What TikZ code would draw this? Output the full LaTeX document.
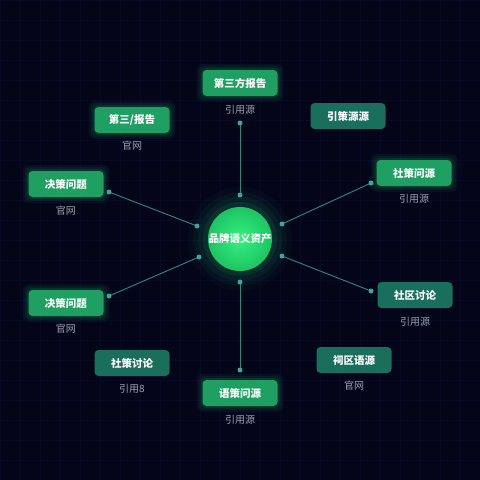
\documentclass[tikz,border=0pt]{standalone}
\usepackage{fontspec}
\newfontfamily\cjk{Noto Sans CJK SC}
\usetikzlibrary{shadings}
\definecolor{bg}{HTML}{05051A}
\definecolor{gridc}{HTML}{080923}
\definecolor{brightbox}{HTML}{1F9F62}
\definecolor{darkbox}{HTML}{1A6E5C}
\definecolor{linec}{HTML}{2B8A80}
\definecolor{dotc}{HTML}{3AA79A}
\definecolor{labelc}{HTML}{9AA0AE}
\definecolor{glowc}{HTML}{22E07A}
\tikzset{
  bbox/.style={rounded corners=4pt, fill=brightbox, text=white, font=\cjk\bfseries\fontsize{10.5}{12}\selectfont, minimum width=75pt, minimum height=26pt, inner sep=0pt},
  dbox/.style={rounded corners=4pt, fill=darkbox, text=white, font=\cjk\bfseries\fontsize{10.5}{12}\selectfont, minimum width=75pt, minimum height=26pt, inner sep=0pt},
  lab/.style={text=labelc, font=\cjk\fontsize{10}{12}\selectfont, inner sep=0pt},
  conn/.style={draw=linec, line width=0.9pt},
  dot/.style={circle, fill=dotc, minimum size=5pt, inner sep=0pt},
}
\begin{document}
\begin{tikzpicture}[x=1pt,y=-1pt]
\fill[bg] (0,0) rectangle (480,480);
\useasboundingbox (0,0) rectangle (480,480);
\draw[gridc, line width=0.4pt] (0,0) grid[step=20pt] (480,480);
% glows behind bright boxes
\foreach \cx/\cy in {240/83, 132/120, 414/173, 66/184, 66/303, 240/393}{
  \foreach \g/\o in {6/0.05,4/0.07,2/0.1}{
    \fill[glowc, opacity=\o, rounded corners=6pt] (\cx-37.5-\g,\cy-13-\g) rectangle (\cx+37.5+\g,\cy+13+\g);
  }
}
% central glow
\foreach \r/\o in {52/0.03,47/0.04,42/0.06,37/0.09}{
  \fill[glowc, opacity=\o] (240,239) circle (\r);
}
\node[circle, minimum size=64pt, inner sep=0pt, inner color={rgb,255:red,52;green,240;blue,128}, outer color={rgb,255:red,30;green,196;blue,98}, text=white, font=\cjk\bfseries\fontsize{10.5}{12}\selectfont] (core) at (240,239) {品牌语义资产};
% boxes
\node[bbox] (n1) at (240,83) {第三方报告};
\node[lab] (l1) at (240,110) {引用源};
\node[bbox] (n2) at (132,120) {第三/报告};
\node[lab] (l2) at (132,146) {官网};
\node[dbox] (n3) at (348,116) {引策源源};
\node[bbox] (n4) at (414,173) {社策问源};
\node[lab] (l4) at (414,199) {引用源};
\node[bbox] (n5) at (66,184) {决策问题};
\node[lab] (l5) at (66,211) {官网};
\node[bbox] (n6) at (66,303) {决策问题};
\node[lab] (l6) at (66,329) {官网};
\node[dbox] (n7) at (415,295) {社区讨论};
\node[lab] (l7) at (415,322) {引用源};
\node[dbox] (n8) at (132,363) {社策讨论};
\node[lab] (l8) at (132,389) {引用8};
\node[bbox] (n9) at (240,393) {语策问源};
\node[lab] (l9) at (240,420) {引用源};
\node[dbox] (n10) at (354,360) {祠区语源};
\node[lab] (l10) at (354,386) {官网};
% connector endpoints
\coordinate (a1) at (240,123); \coordinate (b1) at (240,195);
\coordinate (a2) at (109,192); \coordinate (b2) at (197,226);
\coordinate (a3) at (371,183); \coordinate (b3) at (282,224);
\coordinate (a4) at (109,296); \coordinate (b4) at (199,257);
\coordinate (a5) at (371,291); \coordinate (b5) at (282,256);
\coordinate (a6) at (240,370); \coordinate (b6) at (240,282);
\foreach \i in {1,...,6}{
  \draw[conn] (a\i) -- (b\i);
  \node[dot] at (a\i) {};
  \node[dot] at (b\i) {};
}
\end{tikzpicture}
\end{document}
